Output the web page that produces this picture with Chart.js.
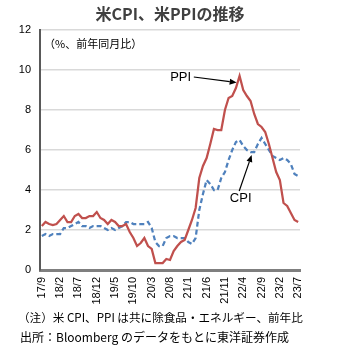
<!DOCTYPE html>
<html>
<head>
<meta charset="utf-8">
<script src="https://cdn.jsdelivr.net/npm/chart.js@4"></script>
<style>
  html, body { margin: 0; padding: 0; background: #fff; }
  #wrap { width: 340px; height: 349px; }
</style>
</head>
<body>
<div id="wrap"><canvas id="chart" width="340" height="349"></canvas></div>
<script>
const months = [
  "17/9","17/10","17/11","17/12",
  "18/1","18/2","18/3","18/4","18/5","18/6","18/7","18/8","18/9","18/10","18/11","18/12",
  "19/1","19/2","19/3","19/4","19/5","19/6","19/7","19/8","19/9","19/10","19/11","19/12",
  "20/1","20/2","20/3","20/4","20/5","20/6","20/7","20/8","20/9","20/10","20/11","20/12",
  "21/1","21/2","21/3","21/4","21/5","21/6","21/7","21/8","21/9","21/10","21/11","21/12",
  "22/1","22/2","22/3","22/4","22/5","22/6","22/7","22/8","22/9","22/10","22/11","22/12",
  "23/1","23/2","23/3","23/4","23/5","23/6","23/7"
];

// 除食品・エネルギー、前年同月比（%）
const ppi = [
  2.2, 2.4, 2.3, 2.25,
  2.3, 2.5, 2.7, 2.4, 2.4, 2.7, 2.8, 2.6, 2.6, 2.7, 2.7, 2.9,
  2.6, 2.5, 2.3, 2.5, 2.4, 2.2, 2.2, 2.3, 1.9, 1.6, 1.2, 1.35,
  1.6, 1.2, 1.05, 0.35, 0.35, 0.35, 0.55, 0.5, 0.95, 1.2, 1.4, 1.5,
  2.0, 2.5, 3.1, 4.6, 5.2, 5.6, 6.3, 7.05, 7.0, 7.0, 8.0, 8.6,
  8.7, 9.1, 9.7, 9.0, 8.7, 8.45, 7.8, 7.3, 7.15, 6.9, 6.3, 5.6,
  4.9, 4.5, 3.35, 3.2, 2.85, 2.5, 2.4
];
const cpi = [
  1.7, 1.8, 1.7, 1.8,
  1.8, 1.8, 2.1, 2.1, 2.2, 2.3, 2.4, 2.2, 2.2, 2.1, 2.2, 2.2,
  2.2, 2.1, 2.0, 2.1, 2.0, 2.1, 2.2, 2.4, 2.4, 2.3, 2.3, 2.3,
  2.3, 2.4, 2.1, 1.4, 1.2, 1.2, 1.6, 1.7, 1.7, 1.6, 1.6, 1.6,
  1.4, 1.3, 1.6, 3.0, 3.8, 4.5, 4.3, 4.0, 4.0, 4.6, 4.9, 5.5,
  6.0, 6.4, 6.5, 6.2, 6.0, 5.9, 5.9, 6.3, 6.6, 6.3, 6.0, 5.7,
  5.6, 5.5, 5.6, 5.5, 5.3, 4.8, 4.7
];

const jpFont = '"Noto Sans CJK JP", "Liberation Sans", sans-serif';
const numFont = '"Liberation Sans", Arial, sans-serif';

function arrow(ctx, x1, y1, x2, y2) {
  const a = Math.atan2(y2 - y1, x2 - x1);
  const len = 7, w = 3;
  ctx.beginPath();
  ctx.moveTo(x1, y1);
  ctx.lineTo(x2 - Math.cos(a) * len, y2 - Math.sin(a) * len);
  ctx.stroke();
  ctx.beginPath();
  ctx.moveTo(x2, y2);
  ctx.lineTo(x2 - Math.cos(a) * len - Math.sin(a) * w, y2 - Math.sin(a) * len + Math.cos(a) * w);
  ctx.lineTo(x2 - Math.cos(a) * len + Math.sin(a) * w, y2 - Math.sin(a) * len - Math.cos(a) * w);
  ctx.closePath();
  ctx.fill();
}

const textsPlugin = {
  id: "texts",
  afterDraw(chart) {
    const { ctx, scales: { x, y } } = chart;
    ctx.save();
    // title
    ctx.fillStyle = "#404040";
    ctx.font = "bold 16px " + jpFont;
    ctx.textAlign = "center";
    ctx.textBaseline = "middle";
    ctx.fillText("米CPI、米PPIの推移", 170, 14);

    // unit
    ctx.fillStyle = "#000";
    ctx.font = "11px " + jpFont;
    ctx.textAlign = "left";
    ctx.fillText("（%、前年同月比）", 44, 44);

    // series labels and arrows
    ctx.font = "13px " + numFont;
    ctx.textAlign = "center";
    ctx.fillText("PPI", x.getPixelForValue(37.9), y.getPixelForValue(9.65));
    ctx.fillText("CPI", x.getPixelForValue(54.3), y.getPixelForValue(3.6));
    ctx.strokeStyle = "#000";
    ctx.lineWidth = 1.2;
    arrow(ctx, x.getPixelForValue(41.5), y.getPixelForValue(9.65),
               x.getPixelForValue(53.2), y.getPixelForValue(9.37));
    arrow(ctx, x.getPixelForValue(53.9), y.getPixelForValue(3.95),
               x.getPixelForValue(57.3), y.getPixelForValue(5.75));

    // notes
    ctx.font = "11.6px " + jpFont;
    ctx.textAlign = "left";
    ctx.fillText("（注）米 CPI、PPI は共に除食品・エネルギー、前年比", 18, 318);
    ctx.font = "12px " + jpFont;
    ctx.fillText("出所：Bloomberg のデータをもとに東洋証券作成", 20, 337);
    ctx.restore();
  }
};

new Chart(document.getElementById("chart"), {
  type: "line",
  data: {
    labels: months,
    datasets: [
      {
        label: "PPI",
        data: ppi,
        borderColor: "#c0504d",
        borderWidth: 2.25,
        pointRadius: 0,
        tension: 0,
        order: 1
      },
      {
        label: "CPI",
        data: cpi,
        borderColor: "#4f81bd",
        borderWidth: 2.25,
        borderDash: [5, 3],
        pointRadius: 0,
        tension: 0,
        order: 2
      }
    ]
  },
  options: {
    responsive: false,
    animation: false,
    devicePixelRatio: 1,
    layout: { padding: { top: 30, right: 40, bottom: 0, left: 0 } },
    plugins: {
      legend: { display: false },
      tooltip: { enabled: false }
    },
    scales: {
      x: {
        offset: true,
        afterFit(scale) { scale.height = 79; },
        grid: { display: false, drawTicks: false },
        border: { display: true, color: "#7f7f7f", width: 3 },
        ticks: {
          autoSkip: false,
          maxRotation: 90,
          minRotation: 90,
          padding: 7,
          color: "#000",
          font: { family: numFont, size: 11 },
          callback(value, index) {
            return index % 5 === 0 ? this.getLabelForValue(value) : null;
          }
        }
      },
      y: {
        min: 0,
        max: 12,
        afterFit(scale) { scale.width = 40; },
        grid: { color: "#d9d9d9", lineWidth: 1.5, drawTicks: false },
        border: { display: true, color: "#595959", width: 2 },
        ticks: {
          stepSize: 2,
          padding: 9,
          color: "#000",
          font: { family: numFont, size: 11 }
        }
      }
    }
  },
  plugins: [textsPlugin]
});
</script>
</body>
</html>
